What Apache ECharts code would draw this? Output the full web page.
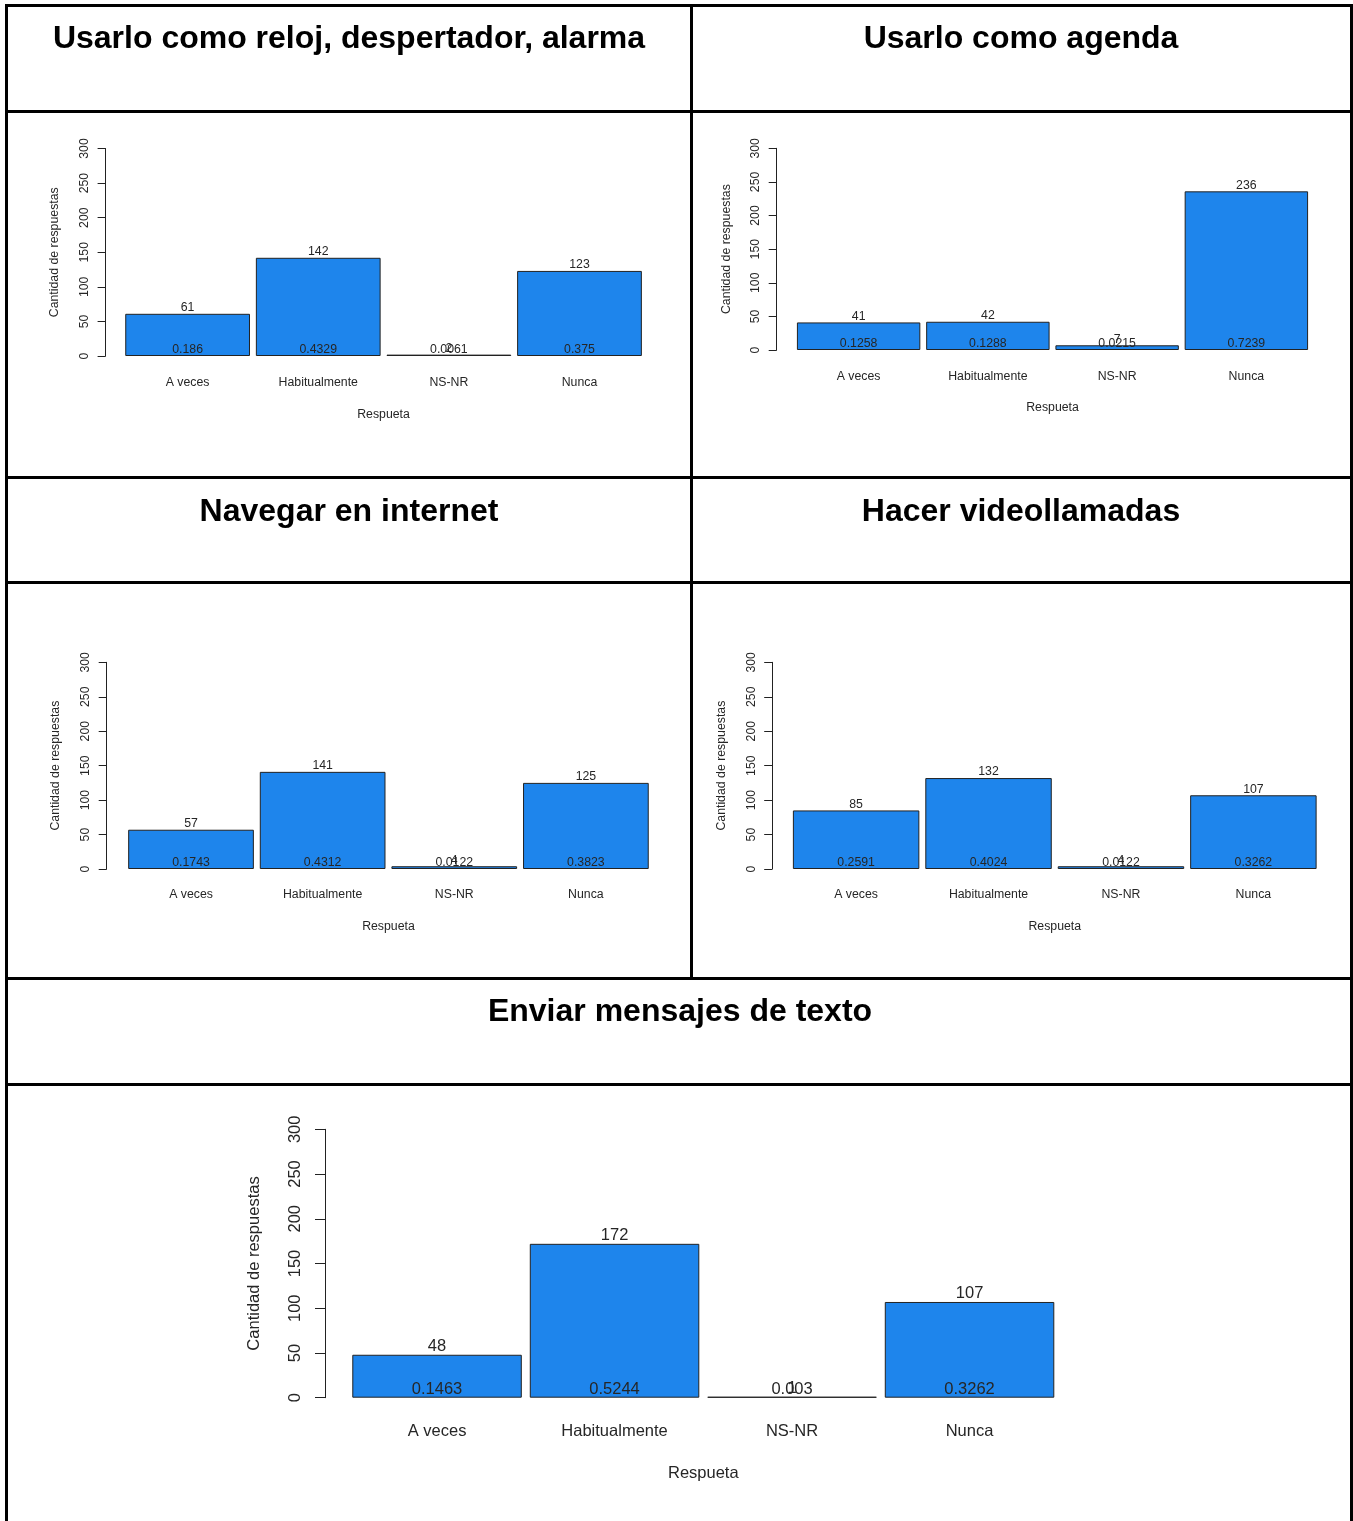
<!DOCTYPE html>
<html>
<head>
<meta charset="utf-8">
<script src="https://cdn.jsdelivr.net/npm/echarts@6/dist/echarts.min.js"></script>
<style>
  html, body { margin: 0; padding: 0; background: #ffffff; }
  #chart { width: 1353px; height: 1521px; }
</style>
</head>
<body>
<div id="chart"></div>
<script>
// ---------- data ----------
const categories = ['A veces', 'Habitualmente', 'NS-NR', 'Nunca'];
const yTicks = [0, 50, 100, 150, 200, 250, 300];
const titles = [
  'Usarlo como reloj, despertador, alarma',
  'Usarlo como agenda',
  'Navegar en internet',
  'Hacer videollamadas',
  'Enviar mensajes de texto'
];
const countsReloj = [61, 142, 2, 123];
const propsReloj = [0.186, 0.4329, 0.0061, 0.375];
const countsAgenda = [41, 42, 7, 236];
const propsAgenda = [0.1258, 0.1288, 0.0215, 0.7239];
const countsInternet = [57, 141, 4, 125];
const propsInternet = [0.1743, 0.4312, 0.0122, 0.3823];
const countsVideo = [85, 132, 4, 107];
const propsVideo = [0.2591, 0.4024, 0.0122, 0.3262];
const countsMensajes = [48, 172, 1, 107];
const propsMensajes = [0.1463, 0.5244, 0.003, 0.3262];
const yAxisName = 'Cantidad de respuestas';
const xAxisName = 'Respueta';

// ---------- layout ----------
const FONT = '"Liberation Sans", Arial, Helvetica, sans-serif';
const panels = [
  { counts: countsReloj,    props: propsReloj,    grid: { left: 122.3, top: 148.5, width: 522.5, height: 207.5 }, offset: 16.7, fs: 12.3, tickMargin: 15, nameGap: 45, xMargin: 21, xNameGap: 53, tick: 8 },
  { counts: countsAgenda,   props: propsAgenda,   grid: { left: 794,   top: 148.3, width: 517,   height: 201.7 }, offset: 17.3, fs: 12.3, tickMargin: 15, nameGap: 44, xMargin: 21, xNameGap: 52, tick: 8 },
  { counts: countsInternet, props: propsInternet, grid: { left: 125.2, top: 662.3, width: 526.5, height: 206.7 }, offset: 18.5, fs: 12.3, tickMargin: 15, nameGap: 45, xMargin: 20, xNameGap: 52, tick: 8 },
  { counts: countsVideo,    props: propsVideo,    grid: { left: 789.9, top: 662.3, width: 529.7, height: 206.7 }, offset: 17.7, fs: 12.3, tickMargin: 15, nameGap: 45, xMargin: 20, xNameGap: 52, tick: 8 },
  { counts: countsMensajes, props: propsMensajes, grid: { left: 348.3, top: 1129.3, width: 710,  height: 268.4 }, offset: 23.3, fs: 16.5, tickMargin: 21, nameGap: 62, xMargin: 25, xNameGap: 67, tick: 10 }
];
const titlePos = [
  { x: 349, y: 39 }, { x: 1021, y: 39 },
  { x: 349, y: 512 }, { x: 1021, y: 512 },
  { x: 680, y: 1012 }
];
const barColor = '#1E85EC';
const inkColor = '#262626';

const grids = [], xAxes = [], yAxes = [], series = [];
panels.forEach((p, i) => {
  grids.push(Object.assign({ containLabel: false }, p.grid));
  xAxes.push({
    type: 'category', gridIndex: i, data: categories,
    axisLine: { show: false }, axisTick: { show: false },
    axisLabel: { margin: p.xMargin, fontSize: p.fs, color: inkColor, fontFamily: FONT, interval: 0 },
    name: xAxisName, nameLocation: 'middle', nameGap: p.xNameGap, nameMoveOverlap: false,
    nameTextStyle: { fontSize: p.fs, color: inkColor, fontFamily: FONT }
  });
  yAxes.push({
    type: 'value', gridIndex: i, min: yTicks[0], max: yTicks[yTicks.length - 1], interval: yTicks[1] - yTicks[0],
    offset: p.offset,
    axisLine: { show: true, lineStyle: { color: '#222', width: 1 } },
    axisTick: { show: true, length: p.tick, lineStyle: { color: '#222', width: 1 } },
    axisLabel: { rotate: 90, margin: p.tickMargin, fontSize: p.fs, color: inkColor, fontFamily: FONT },
    splitLine: { show: false },
    name: yAxisName, nameLocation: 'middle', nameRotate: 90, nameGap: p.nameGap, nameMoveOverlap: false,
    nameTextStyle: { fontSize: p.fs, color: inkColor, fontFamily: FONT }
  });
  series.push({
    type: 'bar', xAxisIndex: i, yAxisIndex: i, data: p.counts,
    barCategoryGap: '4.5%', silent: true,
    itemStyle: { color: barColor, borderColor: '#222', borderWidth: 1 },
    label: { show: true, position: 'top', distance: 0, fontSize: p.fs, color: inkColor, fontFamily: FONT }
  });
  series.push({
    type: 'bar', xAxisIndex: i, yAxisIndex: i, data: p.counts,
    barCategoryGap: '4.5%', barGap: '-100%', silent: true,
    itemStyle: { color: 'rgba(0,0,0,0)', borderWidth: 0 },
    label: {
      show: true, position: 'insideBottom', distance: 0, fontSize: p.fs, color: inkColor, fontFamily: FONT,
      formatter: (d) => String(p.props[d.dataIndex])
    }
  });
});

// borders of the table
const borderRects = [
  { x: 5, y: 4, w: 1348, h: 3 },
  { x: 5, y: 4, w: 3, h: 1517 },
  { x: 1350, y: 4, w: 3, h: 1517 },
  { x: 690, y: 4, w: 3, h: 975 },
  { x: 5, y: 110, w: 1348, h: 3 },
  { x: 5, y: 476, w: 1348, h: 3 },
  { x: 5, y: 581, w: 1348, h: 3 },
  { x: 5, y: 977, w: 1348, h: 3 },
  { x: 5, y: 1083, w: 1348, h: 3 }
];
const graphics = borderRects.map(r => ({
  type: 'rect', silent: true, z: 100,
  shape: { x: r.x, y: r.y, width: r.w, height: r.h },
  style: { fill: '#000' }
}));
titles.forEach((t, i) => {
  graphics.push({
    type: 'text', silent: true, z: 100,
    x: titlePos[i].x, y: titlePos[i].y,
    style: { text: t, fill: '#000', font: 'bold 32px ' + FONT, textAlign: 'center', textVerticalAlign: 'middle' }
  });
});

const chart = echarts.init(document.getElementById('chart'), null, { renderer: 'canvas' });
chart.setOption({
  backgroundColor: '#ffffff',
  animation: false,
  textStyle: { fontFamily: FONT },
  grid: grids, xAxis: xAxes, yAxis: yAxes, series: series,
  graphic: graphics
});
</script>
</body>
</html>
